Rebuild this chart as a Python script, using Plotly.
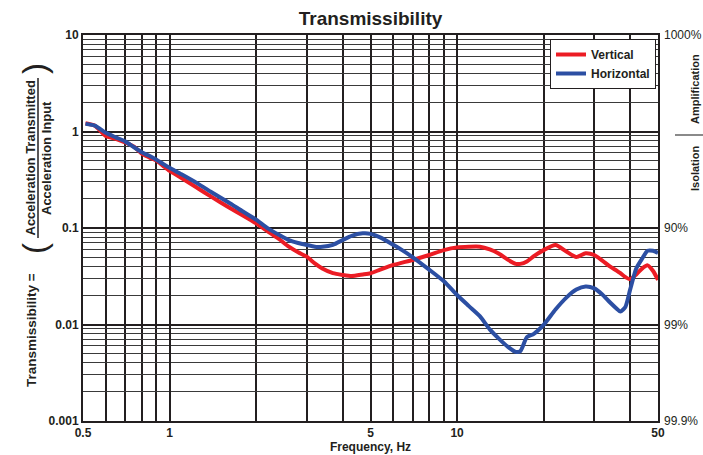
import math
import plotly.graph_objects as go

# ---- data ----
freq = [0.51, 0.55, 0.6, 0.65, 0.7, 0.75, 0.8, 0.85, 0.9, 0.95, 1.0, 1.1, 1.25, 1.4, 1.6, 1.8,
        2.0, 2.2, 2.4, 2.6, 2.8, 3.0, 3.2, 3.4, 3.7, 4.0, 4.3, 4.7, 5.0, 5.4, 6.0, 6.5, 7.0,
        8.0, 9.0, 10, 11, 12, 13, 14, 15, 16, 16.6, 17.5, 18.5, 20, 22, 24, 26, 28, 30, 32,
        34, 36, 37, 38.5, 40, 42, 44, 46, 48, 50]

vertical = [1.22, 1.15, 0.90, 0.84, 0.77, 0.70, 0.59, 0.54, 0.50, 0.44, 0.39, 0.33, 0.26, 0.21,
            0.165, 0.135, 0.112, 0.092, 0.077, 0.064, 0.056, 0.0505, 0.043, 0.038, 0.034, 0.0326,
            0.0318, 0.033, 0.034, 0.037, 0.0414, 0.044, 0.0466, 0.0525, 0.059, 0.063, 0.064,
            0.064, 0.060, 0.054, 0.047, 0.0425, 0.0425, 0.045, 0.051, 0.059, 0.0667, 0.057,
            0.050, 0.0547, 0.0525, 0.046, 0.040, 0.036, 0.034, 0.031, 0.0294, 0.033, 0.038,
            0.041, 0.036, 0.029]

horizontal = [1.20, 1.15, 0.97, 0.87, 0.79, 0.69, 0.61, 0.56, 0.51, 0.46, 0.42, 0.36, 0.29, 0.235,
              0.185, 0.148, 0.122, 0.099, 0.085, 0.075, 0.070, 0.0667, 0.064, 0.064, 0.067, 0.075,
              0.083, 0.088, 0.087, 0.080, 0.067, 0.058, 0.050, 0.037, 0.028, 0.0202, 0.0155,
              0.0122, 0.0089, 0.0071, 0.0059, 0.0052, 0.0053, 0.0074, 0.0080, 0.0099, 0.0143,
              0.0190, 0.0230, 0.0248, 0.0237, 0.0205, 0.0170, 0.0145, 0.0136, 0.0152, 0.0230,
              0.0380, 0.0480, 0.0580, 0.0580, 0.0550]

x_tick_vals = [0.5, 1, 5, 10, 50]
x_tick_text = ["0.5", "1", "5", "10", "50"]
x_minor_vals = [0.6, 0.7, 0.8, 0.9, 2, 3, 4, 6, 7, 8, 9, 20, 30, 40]
y_tick_vals = [0.001, 0.01, 0.1, 1, 10]
y_tick_text = ["0.001", "0.01", "0.1", "1", "10"]
y_minor_vals = [k * 10 ** d for d in range(-3, 1) for k in range(2, 10)]
right_tick_vals = [10, 0.1, 0.01, 0.001]
right_tick_text = ["1000%", "90%", "99%", "99.9%"]

RED = "#ec1c24"
BLUE = "#2c4fa3"
INK = "#231f20"
FONT = "Liberation Sans"

# plot-area pixel frame, for placing the text decorations
L, R, T, B = 83, 658, 35, 421


def px_x(x):
    return (x - L) / (R - L)


def px_y(y):
    return (B - y) / (B - T)


fig = go.Figure()
fig.add_trace(go.Scatter(x=freq, y=vertical, name="Vertical", mode="lines",
                         line=dict(color=RED, width=4, shape="spline", smoothing=0.6)))
fig.add_trace(go.Scatter(x=freq, y=horizontal, name="Horizontal", mode="lines",
                         line=dict(color=BLUE, width=4, shape="spline", smoothing=0.6)))
fig.add_trace(go.Scatter(x=[1], y=[1], yaxis="y2", mode="markers", marker=dict(opacity=0),
                         showlegend=False, hoverinfo="skip"))

bold = dict(family=FONT, size=12, color=INK, weight="bold")

fig.update_layout(
    width=703, height=455,
    margin=dict(l=L, r=703 - R, t=T, b=455 - B, autoexpand=False),
    paper_bgcolor="white", plot_bgcolor="white",
    font=dict(family=FONT, color=INK),
    title=dict(text="Transmissibility", x=0.5, xref="paper", xanchor="center",
               y=1 - 18 / 455, yref="container", yanchor="middle",
               font=dict(family=FONT, size=19, color=INK, weight="bold")),
    xaxis=dict(type="log", range=[math.log10(0.5), math.log10(50)], automargin=False,
               tickmode="array", tickvals=x_tick_vals, ticktext=x_tick_text,
               tickfont=bold, ticks="", showgrid=True, gridcolor=INK, gridwidth=2,
               minor=dict(tickvals=x_minor_vals, showgrid=True, gridcolor=INK, gridwidth=2,
                          ticks=""),
               showline=True, linecolor=INK, linewidth=2, mirror=True, zeroline=False,
               title=dict(text="Frequency, Hz", font=bold, standoff=2)),
    yaxis=dict(type="log", range=[-3, 1], automargin=False, tickmode="array",
               tickvals=y_tick_vals, ticktext=y_tick_text, tickfont=bold, ticks="",
               showgrid=True, gridcolor=INK, gridwidth=1.5,
               minor=dict(tickvals=y_minor_vals, showgrid=True, gridcolor="#3a3a3a",
                          gridwidth=1, ticks=""),
               showline=True, linecolor=INK, linewidth=2, mirror=True, zeroline=False),
    yaxis2=dict(type="log", range=[-3, 1], overlaying="y", side="right", automargin=False,
                tickmode="array", tickvals=right_tick_vals, ticktext=right_tick_text,
                tickfont=dict(family=FONT, size=12, color=INK), ticks="", showgrid=False,
                showline=False, zeroline=False, ticklabelstandoff=5),
    legend=dict(x=px_x(656), xanchor="right", y=px_y(39), yanchor="top",
                bgcolor="white", bordercolor=INK, borderwidth=1, font=bold,
                tracegroupgap=0),
)

annots = [
    dict(text="Transmissibility =", x=px_x(31), y=px_y(330), textangle=-90,
         font=dict(family=FONT, size=13.5, color=INK, weight="bold")),
    dict(text="Acceleration Transmitted", x=px_x(29.5), y=px_y(158), textangle=-90,
         font=dict(family=FONT, size=13, color=INK, weight="bold")),
    dict(text="Acceleration Input", x=px_x(46), y=px_y(158), textangle=-90,
         font=dict(family=FONT, size=13, color=INK, weight="bold")),
    dict(text="(", x=px_x(35), y=px_y(248), textangle=-90,
         font=dict(family=FONT, size=33, color=INK)),
    dict(text=")", x=px_x(35), y=px_y(68), textangle=-90,
         font=dict(family=FONT, size=33, color=INK)),
    dict(text="Amplification", x=px_x(695), y=px_y(89), textangle=-90,
         font=dict(family=FONT, size=11, color=INK, weight="bold")),
    dict(text="Isolation", x=px_x(695), y=px_y(168), textangle=-90,
         font=dict(family=FONT, size=11, color=INK, weight="bold")),
]
for a in annots:
    a.update(xref="paper", yref="paper", showarrow=False, xanchor="center", yanchor="middle")
    fig.add_annotation(**a)

# fraction bar and the amplification / isolation divider
fig.add_shape(type="line", xref="paper", yref="paper", x0=px_x(38), x1=px_x(38),
              y0=px_y(238), y1=px_y(78), line=dict(color=INK, width=1.5))
fig.add_shape(type="line", xref="paper", yref="paper", x0=px_x(675), x1=px_x(703),
              y0=px_y(135), y1=px_y(135), line=dict(color="#8a8a8a", width=2))

fig.write_html("out.html", config={"displayModeBar": False},
               post_script="document.body.style.margin='0';document.body.style.padding='0';")
